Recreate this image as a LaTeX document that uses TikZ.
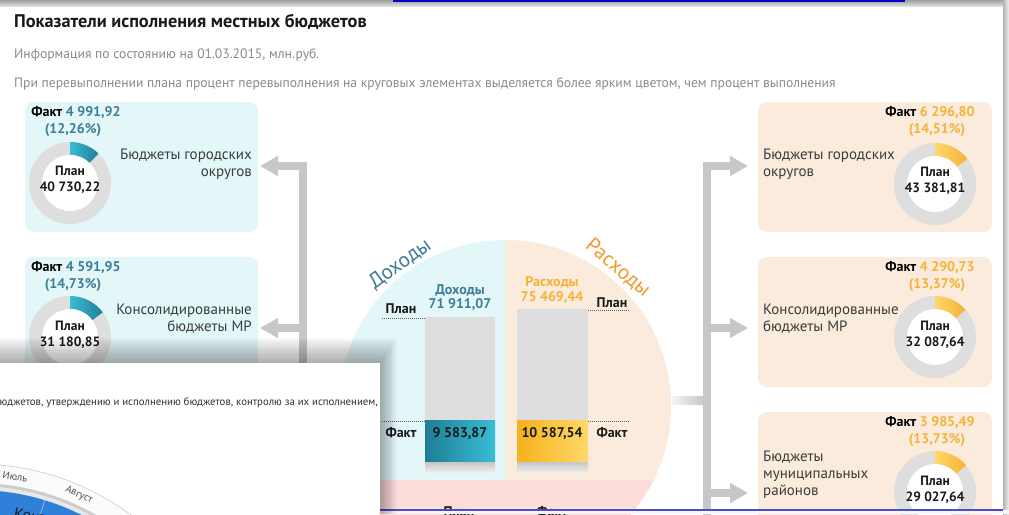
\documentclass[tikz,border=0pt]{standalone}
\usepackage{fontspec}
\setmainfont{PT Sans}
\usetikzlibrary{arrows.meta,calc}
\definecolor{cyanbg}{HTML}{E3F6F8}
\definecolor{peachbg}{HTML}{FAEBDD}
\definecolor{pinkbg}{HTML}{FDDCDC}
\definecolor{tealtx}{HTML}{3C7D99}
\definecolor{orangetx}{HTML}{F5B236}
\definecolor{arcorange}{HTML}{F39A2D}
\definecolor{ringgrey}{HTML}{DEDEDE}
\definecolor{arrowgrey}{HTML}{C7C7C7}
\definecolor{tealA}{HTML}{1F7E97}
\definecolor{tealB}{HTML}{38BDD4}
\definecolor{yelA}{HTML}{F5B21C}
\definecolor{yelB}{HTML}{FFD868}
\definecolor{greytx}{HTML}{8A8A8A}
\definecolor{wblue}{HTML}{2F80D8}
\definecolor{darktx}{HTML}{1A1A1A}
\newcommand{\mydonut}[6]{%
  \begin{scope}[shift={(#2,#3)}]
    \fill[ringgrey] (0,0) circle[radius=41];
    \pgfmathsetmacro{\myend}{-90+3.6*#4}
    \shade[left color=#5,right color=#6] (-90:41) arc[start angle=-90,end angle=\myend,radius=41]
      -- (\myend:28) arc[start angle=\myend,end angle=-90,radius=28] -- cycle;
    \fill[white] (0,0) circle[radius=28];
  \end{scope}
  \coordinate (#1) at (#2,#3);
}
\tikzset{
  lbox/.style={fill=cyanbg, rounded corners=9pt, minimum width=233pt, minimum height=130pt, inner sep=0pt},
  rbox/.style={fill=peachbg, rounded corners=9pt, minimum width=234pt, minimum height=130pt, inner sep=0pt},
  bar/.style={draw=arrowgrey, line width=8pt, line join=miter},
  barar/.style={bar, -{Triangle[length=18pt,width=19pt]}},
  facttx/.style={font=\bfseries\fontsize{14}{16}\selectfont, anchor=base, inner sep=0pt},
  plantx/.style={font=\bfseries\fontsize{13.5}{16}\selectfont, anchor=base, inner sep=0pt, text=darktx},
  lname/.style={font=\fontsize{15}{17}\selectfont, anchor=base east, inner sep=0pt, text=darktx!85},
  rname/.style={font=\fontsize{15}{17}\selectfont, anchor=base west, inner sep=0pt, text=darktx!85},
  bartx/.style={font=\bfseries\fontsize{14}{16}\selectfont, anchor=base, inner sep=0pt},
  dotln/.style={draw=darktx!70, densely dotted, line width=1pt},
  month/.style={font=\fontsize{10.5}{12}\selectfont, text=darktx!75, inner sep=0pt},
}
\begin{document}
\begin{tikzpicture}[x=1pt,y=-1pt]
\clip (0,0) rectangle (1009,514);
\fill[white] (0,0) rectangle (1009,514);
% window shadows
\shade[top color=gray!75, bottom color=gray!25] (0,0) rectangle (1009,6);
\shade[left color=gray!60, right color=gray!10] (1003,0) rectangle (1009,514);
\fill[blue!80!black] (393,0) rectangle (905,1.5);

% titles
\node[anchor=base west, inner sep=0pt, font=\bfseries\fontsize{18.3}{20}\selectfont, text=darktx] (title) at (14,27.7) {Показатели исполнения местных бюджетов};
\node[anchor=base west, inner sep=0pt, font=\fontsize{13.6}{16}\selectfont, text=greytx] (sub1) at (14,58) {Информация по состоянию на 01.03.2015, млн.руб.};
\node[anchor=base west, inner sep=0pt, font=\fontsize{13.6}{16}\selectfont, text=greytx] (sub2) at (14,87) {При перевыполнении плана процент перевыполнения на круговых элементах выделяется более ярким цветом, чем процент выполнения};

% left boxes
\node[lbox] (lb1) at (141.5,167) {};
\node[lbox] (lb2) at (141.5,322) {};
% right boxes
\node[rbox] (rb1) at (875,167) {};
\node[rbox] (rb2) at (875,322) {};
\node[rbox] (rb3) at (875,477) {};

% donuts
\mydonut{dl1}{70}{183}{12.26}{tealB}{tealA}
\mydonut{dl2}{70}{337}{14.73}{tealB}{tealA}
\mydonut{dr1}{935}{184}{14.51}{yelB}{orangetx}
\mydonut{dr2}{935}{337}{13.37}{yelB}{orangetx}
\mydonut{dr3}{935}{492}{13.73}{yelB}{orangetx}

% left box texts
\node[facttx] (fl1) at (76,116.7) {Факт \textcolor{tealtx}{4 991,92}};
\node[facttx, text=tealtx] (pl1) at (73,133) {(12,26\%)};
\node[plantx] (ql1) at (70,175.5) {План};
\node[plantx] (vl1) at (70,191) {40 730,22};
\node[lname] (nl1a) at (252,159) {Бюджеты городских};
\node[lname] (nl1b) at (252,176) {округов};

\node[facttx] (fl2) at (76,271.7) {Факт \textcolor{tealtx}{4 591,95}};
\node[facttx, text=tealtx] (pl2) at (73,288) {(14,73\%)};
\node[plantx] (ql2) at (70,330) {План};
\node[plantx] (vl2) at (70,346) {31 180,85};
\node[lname] (nl2a) at (252,314) {Консолидированные};
\node[lname] (nl2b) at (252,331) {бюджеты МР};

% right box texts
\node[facttx] (fr1) at (930,116.7) {Факт \textcolor{orangetx}{6 296,80}};
\node[facttx, text=orangetx] (pr1) at (937,133) {(14,51\%)};
\node[plantx] (qr1) at (935,176.5) {План};
\node[plantx] (vr1) at (935,192) {43 381,81};
\node[rname] (nr1a) at (763,159) {Бюджеты городских};
\node[rname] (nr1b) at (763,176) {округов};

\node[facttx] (fr2) at (930,271.7) {Факт \textcolor{orangetx}{4 290,73}};
\node[facttx, text=orangetx] (pr2) at (937,288) {(13,37\%)};
\node[plantx] (qr2) at (935,330) {План};
\node[plantx] (vr2) at (935,346) {32 087,64};
\node[rname] (nr2a) at (763,314) {Консолидированные};
\node[rname] (nr2b) at (763,331) {бюджеты МР};

\node[facttx] (fr3) at (930,426.7) {Факт \textcolor{orangetx}{3 985,49}};
\node[facttx, text=orangetx] (pr3) at (937,443) {(13,73\%)};
\node[plantx] (qr3) at (935,485) {План};
\node[plantx] (vr3) at (935,501) {29 027,64};
\node[rname] (nr3a) at (763,461) {Бюджеты};
\node[rname] (nr3b) at (763,478) {муниципальных};
\node[rname] (nr3c) at (763,495) {районов};

% connectors
\coordinate (lbusTop) at (303,166);
\coordinate (lbusBot) at (303,400);
\coordinate (lt1) at (260,166);
\coordinate (lj2) at (303,328);
\coordinate (lt2) at (260,328);
\draw[barar] (lbusBot) -- (lbusTop) -- (lt1);
\draw[barar] (lj2) -- (lt2);

\coordinate (rbusTop) at (706.5,166);
\coordinate (rbusBot) at (706.5,530);
\coordinate (rt1) at (748,166);
\coordinate (rj2) at (706.5,328);
\coordinate (rt2) at (748,328);
\coordinate (rj3) at (706.5,493);
\coordinate (rt3) at (748,493);
\draw[barar] (rbusBot) -- (rbusTop) -- (rt1);
\draw[barar] (rj2) -- (rt2);
\draw[barar] (rj3) -- (rt3);
\coordinate (cc) at (672,400);
\coordinate (rj0) at (703,400);
\shade[left color=gray!8, right color=arrowgrey] ($(cc)+(0,-4)$) rectangle ($(rj0)+(0,4)$);

% central circle
\begin{scope}
  \clip (505,406) circle[radius=166];
  \fill[cyanbg] (300,200) rectangle (505,480);
  \fill[peachbg] (505,200) rectangle (700,480);
  \fill[pinkbg] (300,480) rectangle (700,600);
\end{scope}
\node[font=\fontsize{21}{24}\selectfont, text=tealtx, rotate=36, inner sep=0pt] (arcD) at (400,264) {Доходы};
\node[font=\fontsize{21}{24}\selectfont, text=arcorange, rotate=-40, inner sep=0pt] (arcR) at (618,268) {Расходы};

% bars
\fill[ringgrey] (425,317) rectangle (495,420);
\shade[left color=tealA, right color=tealB] (425,420) rectangle (495,462);
\shade[top color=gray!45, bottom color=gray!15] (425,462) rectangle (495,472);
\fill[ringgrey] (517,309) rectangle (588,420);
\shade[left color=yelA, right color=yelB] (517,420) rectangle (588,462);
\shade[top color=gray!45, bottom color=gray!15] (517,462) rectangle (588,472);

\node[bartx, text=tealtx] (hD) at (460,294) {Доходы};
\node[bartx, text=tealtx] (vD) at (460,308) {71 911,07};
\node[bartx, text=orangetx] (hR) at (552,286) {Расходы};
\node[bartx, text=orangetx] (vR) at (552,301) {75 469,44};
\node[bartx, text=darktx] (planL) at (401,313) {План};
\node[bartx, text=darktx] (planR) at (612,307) {План};
\draw[dotln] (382,318) -- (425,318);
\draw[dotln] (588,310) -- (630,310);
\draw[dotln] (382,421.5) -- (425,421.5);
\draw[dotln] (588,421.5) -- (630,421.5);
\node[bartx, text=darktx] (factL) at (401,437) {Факт};
\node[bartx, text=darktx] (factR) at (612,437) {Факт};
\node[bartx, text=darktx] (fvD) at (460,437) {9 583,87};
\node[bartx, text=darktx] (fvR) at (552,437) {10 587,54};
\node[bartx, text=darktx] (bPlan) at (459,516) {План};
\node[bartx, text=darktx] (bFact) at (552,516) {Факт};

% bottom window edge
\fill[gray!6] (232,510) rectangle (1009,514);
\draw[blue!55!gray!90, line width=1.5pt] (232,510) -- (1003,510);

% overlay window shadow
\foreach \i in {1,...,14} {
  \fill[black, opacity=0.022] (0,363-1.8*\i) rectangle (380+1.2*\i,514);
}
\fill[white] (0,363) rectangle (380,514);
\node[anchor=base east, inner sep=0pt, font=\fontsize{10.8}{13}\selectfont, text=darktx!90] (ovtx) at (378,405) {бюджетов, утверждению и исполнению бюджетов, контролю за их исполнением,};
% wheel
\begin{scope}[shift={(-24,725)}]
  \draw[gray!40, line width=0.8pt] (0,0) circle[radius=261];
  \fill[gray!3] (0,0) circle[radius=260.5];
  \fill[gray!40] (0,0) circle[radius=242];
  \fill[gray!18] (0,0) circle[radius=239];
  \fill[wblue] (0,0) circle[radius=235];
  \draw[white!60!wblue, line width=0.6pt] (-73:205) -- (-73:235);
\end{scope}
\node[month, rotate=-9] (m7) at (15,477) {Июль};
\node[month, rotate=-25] (m8) at (79,495) {Август};
\node[anchor=base west, font=\fontsize{16}{18}\selectfont, text=darktx, rotate=-11, inner sep=0pt] (ctl) at (13,518) {Контроль};
\end{tikzpicture}
\end{document}
